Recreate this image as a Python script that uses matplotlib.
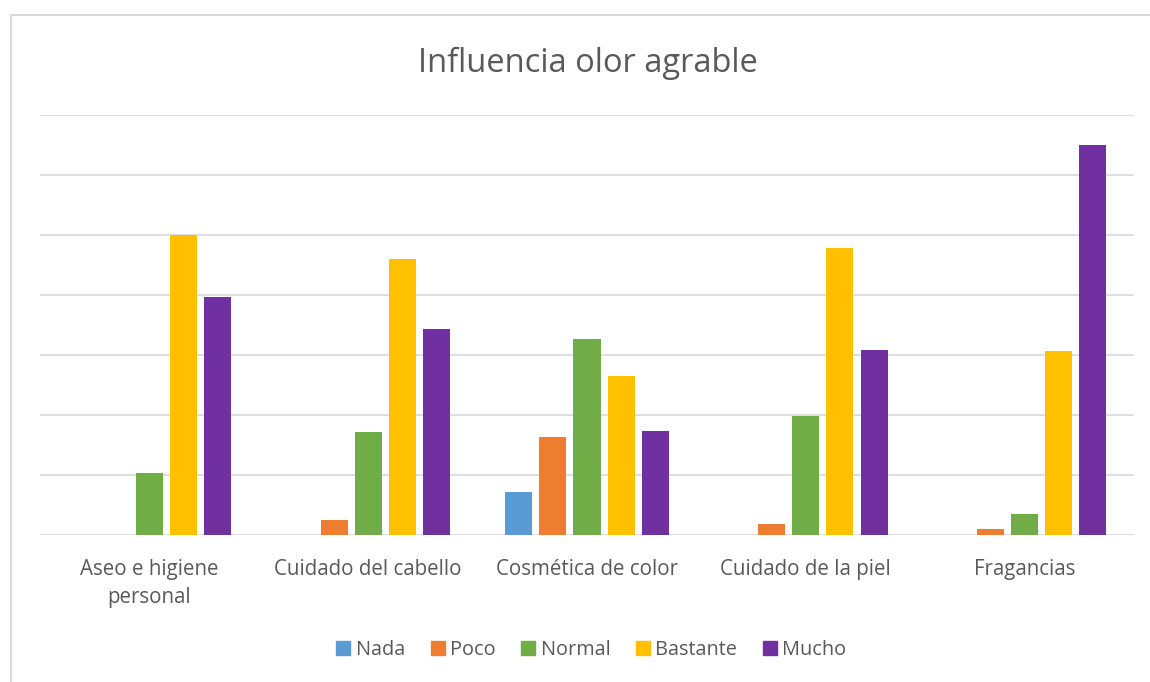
import matplotlib.pyplot as plt
from matplotlib.lines import Line2D
import numpy as np

categories = ['Aseo e higiene\npersonal', 'Cuidado del cabello', 'Cosmética de color',
              'Cuidado de la piel', 'Fragancias']
series = ['Nada', 'Poco', 'Normal', 'Bastante', 'Mucho']
nada = [0, 0, 7.2, 0, 0]
poco = [0, 2.5, 16.3, 1.8, 1.0]
normal = [10.3, 17.2, 32.7, 19.8, 3.5]
bastante = [50.0, 46.0, 26.5, 47.8, 30.7]
mucho = [39.7, 34.3, 17.3, 30.8, 65.0]
colors = ['#5B9BD5', '#ED7D31', '#70AD47', '#FFC000', '#7030A0']

plt.rcParams['font.family'] = ['Open Sans', 'DejaVu Sans']
fig = plt.figure(figsize=(11.5, 6.82), dpi=100)
ax = fig.add_axes([40/1150, 1 - 535/682, 1094/1150, 420/682])

x = np.arange(len(categories))
step, width = 0.156, 0.124
for j, (vals, c) in enumerate(zip([nada, poco, normal, bastante, mucho], colors)):
    ax.bar(x + (j - 2) * step, vals, width, color=c, label=series[j], zorder=3)

ax.set_xlim(-0.5, 4.5)
ax.set_ylim(0, 70)
ax.set_yticks(np.arange(0, 71, 10))
ax.yaxis.grid(True, color='#D9D9D9', lw=1.2, zorder=0)
ax.tick_params(axis='y', left=False, labelleft=False)
ax.tick_params(axis='x', length=0, pad=17, labelsize=14.8, labelcolor='#595959')
ax.set_xticks(x)
ax.set_xticklabels(categories, linespacing=1.45)
for s in ax.spines.values():
    s.set_visible(False)

fig.text(0.511, 1 - 63/682, 'Influencia olor agrable', ha='center', va='center',
         fontsize=23.5, color='#595959')

handles = [Line2D([], [], marker='s', ls='', color=c, markersize=10) for c in colors]
fig.legend(handles, series, loc='center', bbox_to_anchor=(0.513, 1 - 650/682), ncol=5,
           frameon=False, fontsize=14.3, labelcolor='#595959', handletextpad=0.12,
           columnspacing=1.15, handlelength=1.0)

# chart border
fig.add_artist(Line2D([11/1150, 11/1150], [0, 1 - 15/682], color='#D9D9D9', lw=1.5))
fig.add_artist(Line2D([11/1150, 1], [1 - 15/682, 1 - 15/682], color='#D9D9D9', lw=1.5))

fig.savefig('out.png', dpi=100, facecolor='white')
